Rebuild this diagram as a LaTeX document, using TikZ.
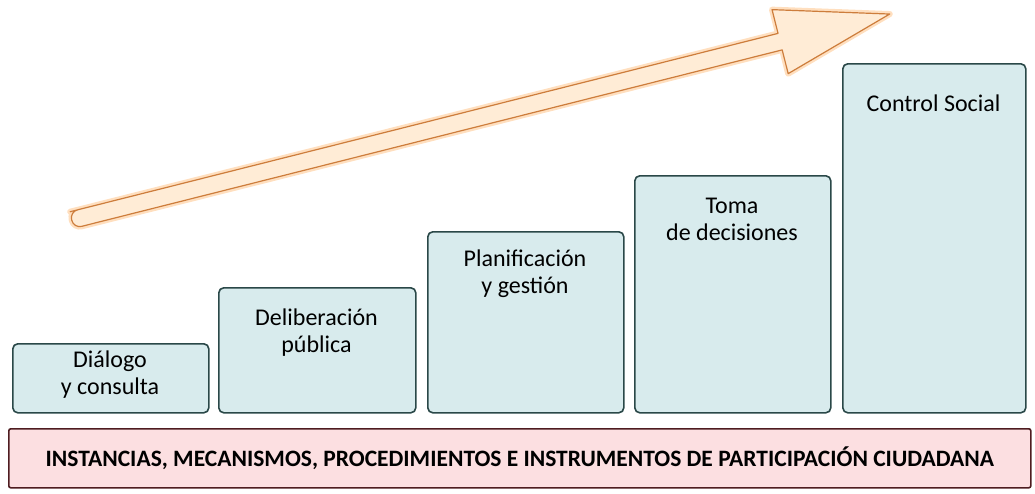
\documentclass[tikz,border=0pt]{standalone}
\usepackage{fontspec}
\setmainfont{Carlito}
\usepackage{xcolor}
\usepackage{tikz}
\definecolor{celeste}{RGB}{216,235,237}
\definecolor{borde}{RGB}{42,72,72}
\definecolor{rosado}{RGB}{252,223,225}
\definecolor{granate}{RGB}{78,28,32}
\definecolor{durazno}{RGB}{255,236,214}
\definecolor{naranja}{RGB}{205,125,60}

\begin{document}
\begin{tikzpicture}[x=1pt,y=-1pt,
  peldano/.style={draw=borde,fill=celeste,line width=1.6pt,rounded corners=5pt,anchor=north west,inner sep=0pt},
  rotulo/.style={align=center,font=\fontsize{24}{27}\selectfont},
  banda/.style={draw=granate,fill=rosado,line width=1.6pt,rounded corners=2pt,anchor=north west,inner sep=0pt,font=\bfseries\fontsize{23.5}{27}\selectfont}]
\useasboundingbox (0,0) rectangle (1035,493);

% flecha
\begin{scope}[shift={(80,218)},rotate=14.14]
\draw[orange!25,line width=6pt,line join=round] (0,-8.5) -- (722,-8.5) -- (722,-33) -- (835,0) -- (722,33) -- (722,8.5) -- (0,8.5) [rounded corners=8pt] -- (-8.5,8.5) -- (-8.5,-8.5) -- cycle;
\draw[naranja,fill=durazno,line width=1.2pt,line join=round] (0,-8.5) -- (722,-8.5) -- (722,-33) -- (835,0) -- (722,33) -- (722,8.5) -- (0,8.5) [rounded corners=8pt] -- (-8.5,8.5) -- (-8.5,-8.5) -- cycle;
\end{scope}

% peldanos
\foreach \i/\xl/\xr/\yt/\yl/\txt in {1/12/208/343/375/{Diálogo\\y consulta},2/218/415/287/333/{Deliberación\\pública},3/427/623/231/274/{Planificación\\y gestión},4/634/830/175/219/{Toma\\de decisiones},5/842/1025/63/103/{Control Social}}{
\pgfmathsetmacro{\ancho}{\xr-\xl}
\pgfmathsetmacro{\alto}{412-\yt}
\pgfmathsetmacro{\xc}{(\xl+\xr)/2}
\node[peldano,minimum width=\ancho pt,minimum height=\alto pt] (paso\i) at (\xl,\yt) {};
\node[rotulo] (texto\i) at (\xc,\yl) {\txt};
}

\node[banda,minimum width=1022pt,minimum height=59pt] (base) at (8,428) {INSTANCIAS, MECANISMOS, PROCEDIMIENTOS E INSTRUMENTOS DE PARTICIPACIÓN CIUDADANA};
\end{tikzpicture}
\end{document}
